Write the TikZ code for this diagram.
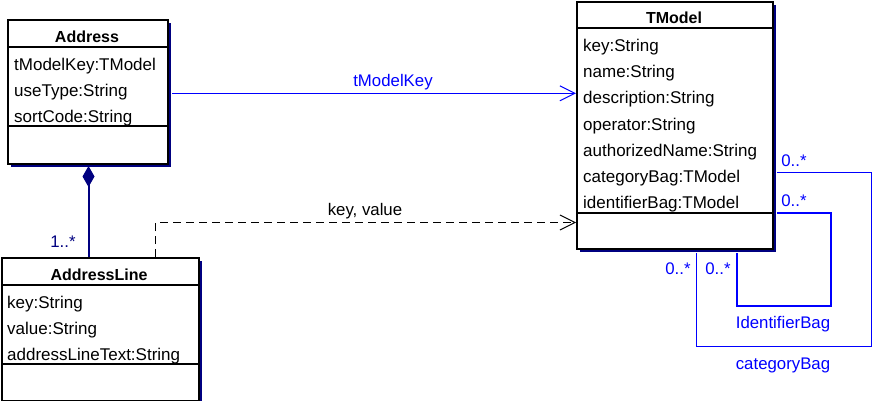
\documentclass[tikz,border=0pt]{standalone}
\usepackage{fontspec}
\setmainfont{Liberation Sans}
\usetikzlibrary{arrows.meta,shadows}
\definecolor{navy}{RGB}{0,0,128}
\definecolor{ublue}{RGB}{0,0,255}
\tikzset{
  classbox/.style={draw=black, line width=2pt, fill=white, anchor=north west, inner sep=0pt,
    drop shadow={shadow xshift=3pt, shadow yshift=-3pt, fill=navy, opacity=1}},
  sep/.style={line width=2pt},
  cname/.style={font=\fontsize{16}{16}\selectfont\bfseries, anchor=base},
  attr/.style={font=\fontsize{17}{17}\selectfont, anchor=base west, inner sep=0pt},
  lbl/.style={font=\fontsize{16.8}{17}\selectfont, inner sep=0pt},
  openhead/.tip={Straight Barb[length=15pt,width=15pt,line width=1pt]},
  assoc/.style={draw=ublue, line width=1pt, -openhead},
  dep/.style={draw=black, line width=1pt, dash pattern=on 8pt off 5pt, -openhead},
  comp/.style={draw=navy, line width=2pt, {Diamond[length=21pt,width=12pt,fill=navy]}-},
  selfa/.style={draw=ublue, line width=1pt},
  selfb/.style={draw=ublue, line width=2pt},
}
\begin{document}
\begin{tikzpicture}[x=1pt,y=-1pt]
\useasboundingbox (0,0) rectangle (872,401);
% Address
\node[classbox, minimum width=160pt, minimum height=144pt] (address) at (7,19) {};
\draw[sep] (7,47.5) -- (167,47.5);
\draw[sep] (7,126.5) -- (167,126.5);
\node[cname] (addressT) at (87,42.5) {Address};
\node[attr] (a1) at (14,71) {tModelKey:TModel};
\node[attr] (a2) at (14,97) {useType:String};
\node[attr] (a3) at (14,123) {sortCode:String};
% AddressLine
\node[classbox, minimum width=197pt, minimum height=142.5pt] (addressline) at (1,257) {};
\draw[sep] (1,284.5) -- (198,284.5);
\draw[sep] (1,363.5) -- (198,363.5);
\node[cname] (alT) at (99,280) {AddressLine};
\node[attr] (l1) at (7,308) {key:String};
\node[attr] (l2) at (7,334) {value:String};
\node[attr] (l3) at (7,360) {addressLineText:String};
% TModel
\node[classbox, minimum width=196pt, minimum height=247pt] (tmodel) at (576,1) {};
\draw[sep] (576,28.5) -- (772,28.5);
\draw[sep] (576,212.5) -- (772,212.5);
\node[cname] (tmT) at (674,24) {TModel};
\node[attr] (t1) at (583,52) {key:String};
\node[attr] (t2) at (583,78) {name:String};
\node[attr] (t3) at (583,104) {description:String};
\node[attr] (t4) at (583,130) {operator:String};
\node[attr] (t5) at (583,156) {authorizedName:String};
\node[attr] (t6) at (583,182) {categoryBag:TModel};
\node[attr] (t7) at (583,208) {identifierBag:TModel};
% tModelKey association
\draw[assoc, shorten <=3pt] (address.east |- 0,93.3) -- (tmodel.west |- 0,93.3);
\node[lbl, text=ublue] (tmk) at (393,82) {tModelKey};
% dependency key, value
\draw[dep] (addressline.north -| 155.5,0) |- (tmodel.west |- 0,222.5);
\node[lbl] (kv) at (365,211) {key, value};
% composition
\draw[comp] (88.5,166) -- (addressline.north -| 88.5,0);
\node[lbl, text=navy] (m1) at (63,242) {1..*};
% categoryBag self association
\draw[selfa] ([xshift=3pt]tmodel.east |- 0,172.5) -| (871,346.5) -| ([yshift=-3pt]tmodel.south -| 696.5,0);
% identifierBag self association
\draw[selfb] ([xshift=3pt]tmodel.east |- 0,212.5) -| (831,306) -| ([yshift=-3pt]tmodel.south -| 736.5,0);
\node[lbl, text=ublue] (c1) at (794,161) {0..*};
\node[lbl, text=ublue] (c2) at (794,201) {0..*};
\node[lbl, text=ublue] (c3) at (678,269) {0..*};
\node[lbl, text=ublue] (c4) at (718,269) {0..*};
\node[lbl, text=ublue] (ib) at (783,324) {IdentifierBag};
\node[lbl, text=ublue] (cb) at (783,365) {categoryBag};
\end{tikzpicture}
\end{document}
